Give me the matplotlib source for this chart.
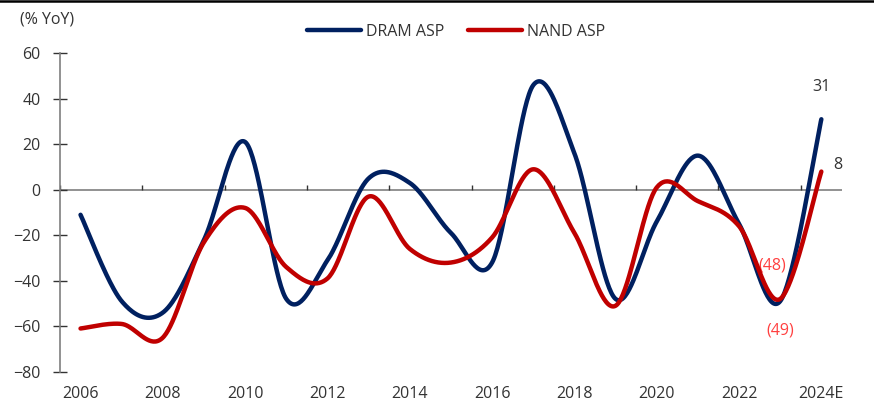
import numpy as np
import matplotlib
matplotlib.use("Agg")
import matplotlib.pyplot as plt
from matplotlib.lines import Line2D

# Data (% YoY)
years = [2006, 2007, 2008, 2009, 2010, 2011, 2012, 2013, 2014, 2015,
         2016, 2017, 2018, 2019, 2020, 2021, 2022, 2023, 2024]
dram_asp = [-11, -49, -54, -22, 21, -48, -31, 5, 3, -19,
            -32, 46, 16, -48, -14, 15, -15, -49, 31]
nand_asp = [-61, -59, -65, -23, -8, -34, -39, -3, -26, -32,
            -21, 9, -19, -51, 1, -5, -16, -48, 8]
xtick_years = [2006, 2008, 2010, 2012, 2014, 2016, 2018, 2020, 2022, 2024]
xtick_labels = ["2006", "2008", "2010", "2012", "2014", "2016", "2018", "2020", "2022", "2024E"]
yticks = [60, 40, 20, 0, -20, -40, -60, -80]

DRAM_COLOR = "#002060"
NAND_COLOR = "#C00000"
LABEL_RED = "#FF4040"
GRID_GRAY = "#7F7F7F"
TEXT_COLOR = "#333333"
FS = 11.5

plt.rcParams["font.family"] = ["Open Sans", "DejaVu Sans"]
plt.rcParams["font.size"] = FS


def smooth(x, y, n=40):
    # Excel-style smoothed line (Catmull-Rom through the points)
    x = np.asarray(x, float)
    y = np.asarray(y, float)
    px = np.concatenate([[x[0]], x, [x[-1]]])
    py = np.concatenate([[y[0]], y, [y[-1]]])
    xs, ys = [], []
    t = np.linspace(0, 1, n)
    for i in range(1, len(px) - 2):
        x0, x1, x2, x3 = px[i - 1], px[i], px[i + 1], px[i + 2]
        y0, y1, y2, y3 = py[i - 1], py[i], py[i + 1], py[i + 2]
        cx1, cy1 = x1 + (x2 - x0) / 6, y1 + (y2 - y0) / 6
        cx2, cy2 = x2 - (x3 - x1) / 6, y2 - (y3 - y1) / 6
        b0, b1, b2, b3 = (1 - t) ** 3, 3 * t * (1 - t) ** 2, 3 * t ** 2 * (1 - t), t ** 3
        xs.append(b0 * x1 + b1 * cx1 + b2 * cx2 + b3 * x2)
        ys.append(b0 * y1 + b1 * cy1 + b2 * cy2 + b3 * y2)
    return np.concatenate(xs), np.concatenate(ys)


fig = plt.figure(figsize=(8.74, 4.05), dpi=100)
ax = fig.add_axes([0.0686, 0.0822, 0.8947, 0.7862])

sx, sy = smooth(years, dram_asp)
ax.plot(sx, sy, color=DRAM_COLOR, lw=3.2, solid_capstyle="round", label="DRAM ASP", zorder=3)
sx, sy = smooth(years, nand_asp)
ax.plot(sx, sy, color=NAND_COLOR, lw=3.2, solid_capstyle="round", label="NAND ASP", zorder=4)

ax.set_xlim(years[0] - 0.5, years[-1] + 0.5)
ax.set_ylim(min(yticks), max(yticks))

# zero line with small category tick marks pointing up
ax.axhline(0, color=GRID_GRAY, lw=1.2, zorder=1)
cat_ticks = np.arange(years[0] - 0.5, years[-1], 2)
ax.vlines(cat_ticks, 0, 2.3, color="#333333", lw=1.0, zorder=1)

for s in ["top", "right", "bottom"]:
    ax.spines[s].set_visible(False)
ax.spines["left"].set_color(GRID_GRAY)
ax.spines["left"].set_linewidth(1.2)

ax.set_yticks(yticks)
ax.tick_params(axis="y", direction="inout", length=10, width=1.0, color="#333333",
               pad=9, labelcolor=TEXT_COLOR, labelsize=FS)
ax.set_xticks(xtick_years)
ax.set_xticklabels(xtick_labels)
ax.tick_params(axis="x", length=0, pad=10, labelcolor=TEXT_COLOR, labelsize=FS)

# data labels
i23 = years.index(2023)
ax.annotate(f"{dram_asp[-1]}", (years[-1], dram_asp[-1]), xytext=(0, 23),
            textcoords="offset points", ha="center", va="center", color=TEXT_COLOR)
ax.annotate(f"{nand_asp[-1]}", (years[-1], nand_asp[-1]), xytext=(12, 5),
            textcoords="offset points", ha="center", va="center", color=TEXT_COLOR)
ax.annotate(f"({abs(nand_asp[i23])})", (years[i23], nand_asp[i23]), xytext=(-6, 24),
            textcoords="offset points", ha="center", va="center", color=LABEL_RED)
ax.annotate(f"({abs(dram_asp[i23])})", (years[i23], dram_asp[i23]), xytext=(0, -21),
            textcoords="offset points", ha="center", va="center", color=LABEL_RED)

fig.text(20 / 874, 1 - 19 / 405, "(% YoY)", ha="left", va="center", color=TEXT_COLOR, fontsize=FS)

fig.legend(loc="center", bbox_to_anchor=(456 / 874, 1 - 32 / 405), ncol=2, frameon=False,
           handlelength=3.4, handletextpad=0.3, columnspacing=1.5, fontsize=FS,
           labelcolor=TEXT_COLOR)

# rule across the top of the figure
fig.add_artist(Line2D([0, 1], [0.998, 0.998], transform=fig.transFigure, color="black", lw=1.8))

fig.savefig("out.png", dpi=100)
